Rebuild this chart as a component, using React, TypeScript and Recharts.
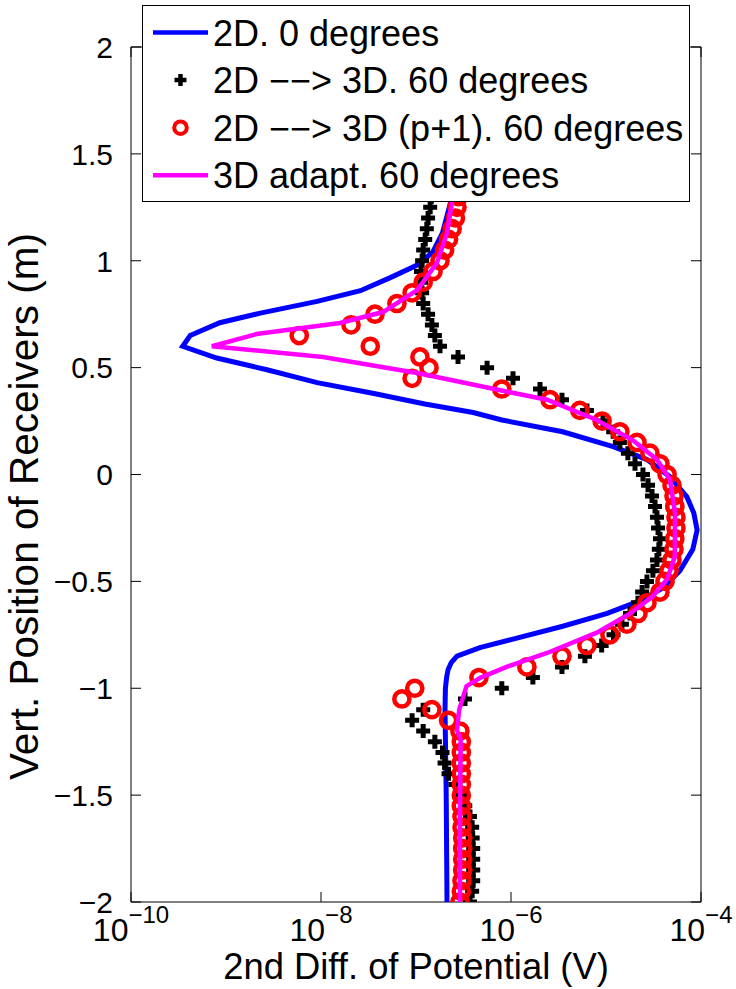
import React from 'react';
import { ScatterChart, Scatter, XAxis, YAxis, Legend } from 'recharts';

const FONT = '"Liberation Sans", Arial, Helvetica, sans-serif';

// ---- ticks ----
const xTicks = [1e-10, 1e-8, 1e-6, 1e-4];
const xTickExponents = ['\u221210', '\u22128', '\u22126', '\u22124'];
const yTicks = [-2, -1.5, -1, -0.5, 0, 0.5, 1, 1.5, 2];
const yTickLabels = ['\u22122', '\u22121.5', '\u22121', '\u22120.5', '0', '0.5', '1', '1.5', '2'];

// ---- series ----
const seriesNames = [
  '2D. 0 degrees',
  '2D \u2212\u2212> 3D. 60 degrees',
  '2D \u2212\u2212> 3D (p+1). 60 degrees',
  '3D adapt. 60 degrees',
];
const seriesColors = ['#0000ff', '#000000', '#ff0000', '#ff00ff'];

// receiver positions (m) for the marker series
const receiverY = [
  -2, -1.95, -1.9, -1.85, -1.8, -1.75, -1.7, -1.65, -1.6, -1.55, -1.5, -1.45, -1.4, -1.35, -1.3, -1.25,
  -1.2, -1.15, -1.1, -1.05, -1, -0.95, -0.9, -0.85, -0.8, -0.75, -0.7, -0.65, -0.6, -0.55, -0.5, -0.45,
  -0.4, -0.35, -0.3, -0.25, -0.2, -0.15, -0.1, -0.05, 0, 0.05, 0.1, 0.15, 0.2, 0.25, 0.3, 0.35, 0.4,
  0.45, 0.5, 0.55, 0.6, 0.65, 0.7, 0.75, 0.8, 0.85, 0.9, 0.95, 1, 1.05, 1.1, 1.15, 1.2, 1.25, 1.3, 1.35,
  1.4, 1.45, 1.5, 1.55, 1.6, 1.65, 1.7, 1.75, 1.8, 1.85, 1.9, 1.95, 2,
];

// 2D --> 3D. 60 degrees (black plus)
const plusVals = [
  3.7e-7, 3.9e-7, 4.0e-7, 4.0e-7, 4.0e-7, 4.0e-7, 3.95e-7, 3.9e-7, 3.7e-7, 3.3e-7, 3.05e-7, 2.6e-7, 2.2e-7, 2.0e-7, 1.9e-7, 1.58e-7,
  1.19e-7, 9.1e-8, 1.19e-7, 3.28e-7, 8.0e-7, 1.7e-6, 3.44e-6, 6.0e-6, 9.0e-6, 1.2e-5, 1.47e-5, 1.79e-5, 2.17e-5, 2.4e-5, 2.7e-5, 3.12e-5,
  3.44e-5, 3.6e-5, 3.7e-5, 3.53e-5, 3.44e-5, 3.28e-5, 3.05e-5, 2.77e-5, 2.45e-5, 2.02e-5, 1.7e-5, 1.4e-5, 1.19e-5, 9.3e-6, 6.3e-6, 3.44e-6, 2.02e-6,
  1.05e-6, 5.6e-7, 2.77e-7, 1.79e-7, 1.58e-7, 1.47e-7, 1.34e-7, 1.19e-7, 1.16e-7, 1.13e-7, 1.13e-7, 1.16e-7, 1.19e-7, 1.25e-7, 1.3e-7, 1.34e-7, 1.41e-7, 1.45e-7, 1.5e-7,
  1.55e-7, 1.6e-7, 1.65e-7, 1.7e-7, 1.75e-7, 1.8e-7, 1.85e-7, 1.9e-7, 1.95e-7, 2.0e-7, 2.0e-7, 2.0e-7, 2.0e-7,
];

// 2D --> 3D (p+1). 60 degrees (red circles)
const circleVals = [
  2.9e-7, 3.0e-7, 3.05e-7, 3.1e-7, 3.1e-7, 3.1e-7, 3.1e-7, 3.05e-7, 3.05e-7, 3.0e-7, 3.0e-7, 3.0e-7, 3.0e-7, 3.0e-7, 3.0e-7, 3.0e-7,
  2.9e-7, 2.2e-7, 1.47e-7, 7.1e-8, 9.7e-8, 4.6e-7, 1.47e-6, 3.44e-6, 6.3e-6, 1.1e-5, 1.66e-5, 2.17e-5, 2.7e-5, 3.7e-5, 4.18e-5, 4.6e-5,
  4.95e-5, 5.2e-5, 5.3e-5, 5.45e-5, 5.45e-5, 5.3e-5, 5.2e-5, 4.95e-5, 4.39e-5, 3.7e-5, 2.9e-5, 2.12e-5, 1.4e-5, 9.1e-6, 5.3e-6, 2.58e-6, 8.0e-7,
  9.1e-8, 1.37e-7, 1.1e-7, 3.3e-8, 5.9e-9, 2.07e-8, 3.7e-8, 6.3e-8, 9.1e-8, 1.19e-7, 1.51e-7, 1.79e-7, 2.0e-7, 2.2e-7, 2.4e-7, 2.6e-7, 2.7e-7, 2.8e-7, 2.85e-7,
  2.9e-7, 2.9e-7, 2.95e-7, 2.95e-7, 3.0e-7, 3.0e-7, 3.0e-7, 3.0e-7, 3.0e-7, 3.0e-7, 3.0e-7, 3.0e-7, 3.0e-7,
];

// 2D. 0 degrees (blue line)
const blueY = [
  -2, -1.5, -1.1, -1, -0.95, -0.915, -0.88, -0.85, -0.81, -0.77, -0.71, -0.65, -0.59, -0.53, -0.45, -0.35,
  -0.26, -0.18, -0.105, -0.01, 0.07, 0.13, 0.2, 0.255, 0.29, 0.33, 0.38, 0.43, 0.49, 0.545, 0.6, 0.65,
  0.71, 0.755, 0.81, 0.86, 0.92, 0.98, 1.04, 1.13, 1.27, 1.6, 2,
];
const blueVals = [
  2.12e-7, 2.08e-7, 2.02e-7, 2.04e-7, 2.1e-7, 2.17e-7, 2.35e-7, 2.7e-7, 4.7e-7, 1.05e-6, 3.5e-6, 1.03e-5, 2.3e-5, 4.0e-5, 6.0e-5, 8.2e-5,
  9.1e-5, 8.4e-5, 7.1e-5, 4.7e-5, 2.7e-5, 1.19e-5, 3.5e-6, 8.0e-7, 4.0e-7, 1.24e-7, 3.5e-8, 9.1e-9, 2.7e-9, 8.0e-10, 3.5e-10, 4.2e-10,
  8.6e-10, 2.3e-9, 9.1e-9, 2.6e-8, 5.3e-8, 1.03e-7, 1.5e-7, 1.9e-7, 2.3e-7, 2.4e-7, 2.45e-7,
];

// 3D adapt. 60 degrees (magenta line)
const magentaY = [
  -2, -1.6, -1.24, -1.195, -1.1, -0.99, -0.95, -0.9, -0.835, -0.74, -0.65, -0.57, -0.49, -0.385, -0.18, -0.025,
  0.07, 0.16, 0.255, 0.35, 0.395, 0.475, 0.55, 0.6, 0.657, 0.709, 0.76, 0.863, 0.99, 1.13, 1.27, 1.6, 2,
];
const magentaVals = [
  2.9e-7, 2.9e-7, 2.95e-7, 2.7e-7, 2.85e-7, 3.4e-7, 4.8e-7, 9.0e-7, 2.4e-6, 8.0e-6, 1.8e-5, 3.1e-5, 4.4e-5, 5.3e-5, 5.33e-5, 4.72e-5,
  3.44e-5, 1.92e-5, 8.0e-6, 2.4e-6, 7.5e-7, 1.03e-7, 1.05e-8, 7.1e-10, 2.1e-9, 1.58e-8, 4.5e-8, 1.03e-7, 1.66e-7, 2.12e-7, 2.39e-7, 2.5e-7, 2.6e-7,
];

const zip = (ys: number[], vs: number[]) => ys.map((y, i) => ({ y, x: vs[i] }));
const blueData = zip(blueY, blueVals);
const plusData = zip(receiverY, plusVals);
const circleData = zip(receiverY, circleVals);
const magentaData = zip(magentaY, magentaVals);

const TICK_LEN = 10;

const NoShape = () => <g />;

const PlusShape = (props: any) => {
  const { cx, cy } = props;
  if (cx == null || cy == null) return <g />;
  const s = 7;
  return (
    <path
      d={`M${cx - s},${cy}H${cx + s}M${cx},${cy - s}V${cy + s}`}
      stroke={seriesColors[1]}
      strokeWidth={5}
      fill="none"
    />
  );
};

const CircleShape = (props: any) => {
  const { cx, cy } = props;
  if (cx == null || cy == null) return <g />;
  return <circle cx={cx} cy={cy} r={7.6} fill="none" stroke={seriesColors[2]} strokeWidth={4.5} />;
};

const XTickBottom = (props: any) => {
  const { x, y, index } = props;
  return (
    <g>
      <line x1={x} x2={x} y1={y} y2={y - TICK_LEN} stroke="#000" strokeWidth={1} />
      <text x={x} y={y + 39} textAnchor="middle" fontFamily={FONT} fontSize={32} fill="#000">
        <tspan>10</tspan>
        <tspan dy={-18} fontSize={24}>{xTickExponents[index]}</tspan>
      </text>
    </g>
  );
};

const XTickTop = (props: any) => {
  const { x, y } = props;
  return <line x1={x} x2={x} y1={y} y2={y + TICK_LEN} stroke="#000" strokeWidth={1} />;
};

const YTickLeft = (props: any) => {
  const { x, y, index } = props;
  return (
    <g>
      <line x1={x} x2={x + TICK_LEN} y1={y} y2={y} stroke="#000" strokeWidth={1} />
      <text x={x - 18} y={y} dy="0.36em" textAnchor="end" fontFamily={FONT} fontSize={30} fill="#000">
        {yTickLabels[index]}
      </text>
    </g>
  );
};

const YTickRight = (props: any) => {
  const { x, y } = props;
  return <line x1={x} x2={x - TICK_LEN} y1={y} y2={y} stroke="#000" strokeWidth={1} />;
};

const XLabel = (props: any) => {
  const vb = props.viewBox || {};
  return (
    <text x={vb.x + vb.width / 2} y={vb.y + 77} textAnchor="middle" fontFamily={FONT} fontSize={36.4} fill="#000">
      2nd Diff. of Potential (V)
    </text>
  );
};

const YLabel = (props: any) => {
  const vb = props.viewBox || {};
  const cy = vb.y + vb.height / 2 + 32;
  return (
    <text
      transform={`translate(38,${cy}) rotate(-90)`}
      textAnchor="middle"
      fontFamily={FONT}
      fontSize={40.5}
      fill="#000"
    >
      Vert. Position of Receivers (m)
    </text>
  );
};

const LegendBox = () => {
  const w = 548;
  const h = 197;
  return (
    <svg width={w} height={h} style={{ display: 'block' }}>
      <rect x={0.5} y={0.5} width={w - 1} height={h - 1} fill="#fff" stroke="#000" strokeWidth={1} />
      {seriesNames.map((name, i) => {
        const cy = 27.5 + i * 47.6;
        return (
          <g key={name}>
            {(i === 0 || i === 3) && (
              <line x1={11} x2={66} y1={cy} y2={cy} stroke={seriesColors[i]} strokeWidth={4.5} />
            )}
            {i === 1 && (
              <path d={`M${38.5 - 6},${cy}H${38.5 + 6}M38.5,${cy - 6}V${cy + 6}`} stroke="#000" strokeWidth={4.5} />
            )}
            {i === 2 && <circle cx={38.5} cy={cy} r={6.3} fill="none" stroke={seriesColors[2]} strokeWidth={4} />}
            <text x={71} y={cy + 13} fontFamily={FONT} fontSize={36} fill="#000">
              {name}
            </text>
          </g>
        );
      })}
    </svg>
  );
};

export default function App() {
  return (
    <div style={{ position: 'absolute', left: 0, top: 0, width: 736, height: 989, background: '#fff' }}>
      <ScatterChart width={736} height={989} margin={{ top: 46, left: 130, right: 34, bottom: 86 }}>
        <XAxis
          xAxisId="b"
          type="number"
          dataKey="x"
          scale="log"
          domain={[1e-10, 1e-4]}
          allowDataOverflow
          ticks={xTicks}
          interval={0}
          orientation="bottom"
          height={1}
          tickSize={0}
          tickMargin={0}
          tickLine={false}
          axisLine={{ stroke: '#000', strokeWidth: 1 }}
          tick={<XTickBottom />}
          label={{ content: <XLabel /> }}
        />
        <XAxis
          xAxisId="t"
          type="number"
          dataKey="x"
          scale="log"
          domain={[1e-10, 1e-4]}
          allowDataOverflow
          ticks={xTicks}
          interval={0}
          orientation="top"
          height={1}
          tickSize={0}
          tickMargin={0}
          tickLine={false}
          axisLine={{ stroke: '#000', strokeWidth: 1 }}
          tick={<XTickTop />}
        />
        <YAxis
          yAxisId="l"
          type="number"
          dataKey="y"
          domain={[-2, 2]}
          allowDataOverflow
          ticks={yTicks}
          interval={0}
          orientation="left"
          width={1}
          tickSize={0}
          tickMargin={0}
          tickLine={false}
          axisLine={{ stroke: '#000', strokeWidth: 1 }}
          tick={<YTickLeft />}
          label={{ content: <YLabel /> }}
        />
        <YAxis
          yAxisId="r"
          type="number"
          dataKey="y"
          domain={[-2, 2]}
          allowDataOverflow
          ticks={yTicks}
          interval={0}
          orientation="right"
          width={1}
          tickSize={0}
          tickMargin={0}
          tickLine={false}
          axisLine={{ stroke: '#000', strokeWidth: 1 }}
          tick={<YTickRight />}
        />
        <Scatter
          name={seriesNames[0]}
          data={blueData}
          xAxisId="b"
          yAxisId="l"
          fill={seriesColors[0]}
          line={{ stroke: seriesColors[0], strokeWidth: 5 }}
          shape={<NoShape />}
          isAnimationActive={false}
        />
        <Scatter
          name={seriesNames[1]}
          data={plusData}
          xAxisId="b"
          yAxisId="l"
          fill={seriesColors[1]}
          shape={<PlusShape />}
          isAnimationActive={false}
        />
        <Scatter
          name={seriesNames[2]}
          data={circleData}
          xAxisId="b"
          yAxisId="l"
          fill={seriesColors[2]}
          shape={<CircleShape />}
          isAnimationActive={false}
        />
        <Scatter
          name={seriesNames[3]}
          data={magentaData}
          xAxisId="b"
          yAxisId="l"
          fill={seriesColors[3]}
          line={{ stroke: seriesColors[3], strokeWidth: 4.5 }}
          shape={<NoShape />}
          isAnimationActive={false}
        />
        <Legend
          content={<LegendBox />}
          layout="horizontal"
          verticalAlign="middle"
          align="center"
          wrapperStyle={{ left: 142, top: 5, width: 548, height: 197, margin: 0, padding: 0, lineHeight: 0 }}
        />
      </ScatterChart>
    </div>
  );
}
